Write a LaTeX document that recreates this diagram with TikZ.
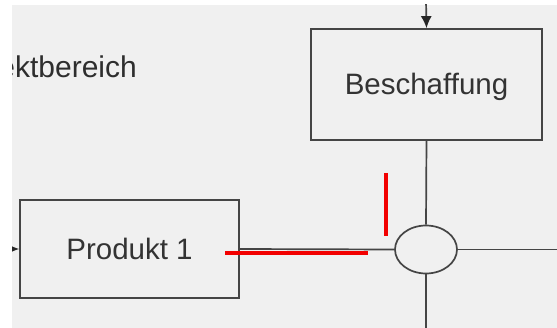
\documentclass[tikz,border=0pt]{standalone}
\usepackage{fontspec}
\setmainfont{Liberation Sans}
\usetikzlibrary{arrows.meta,shapes.geometric}
\definecolor{canvas}{HTML}{F0F0F0}
\definecolor{edge}{HTML}{454545}
\definecolor{mark}{HTML}{F20000}
\tikzset{
  px/.style={x={(1pt,0)},y={(0,-1pt)}},
  procbox/.style={draw=edge,line width=1.7pt,fill=canvas,rectangle,inner sep=0pt,
    font=\fontsize{29.5}{33}\selectfont,text=black!80,text height=21pt,text depth=0pt},
  junction/.style={draw=edge,line width=1.7pt,fill=canvas,ellipse,inner sep=0pt,
    minimum width=62pt,minimum height=48pt},
  flow/.style={draw=edge,line width=1.7pt},
  flowarrow/.style={flow,-{Latex[length=12pt,width=11pt,color=black!85]}},
  redmark/.style={draw=mark,line width=4.6pt},
  caption/.style={font=\fontsize{30}{34}\selectfont,text=black!82,inner sep=0pt}
}
\begin{document}
\begin{tikzpicture}[px]
  \useasboundingbox (0,0) rectangle (557,328);
  \fill[white] (0,0) rectangle (557,328);
  \fill[canvas] (12,5) rectangle (557,328);
  \begin{scope}
    \clip (12,5) rectangle (557,328);
    % area title
    \node[caption,anchor=base east] (area) at (137,78) {ektbereich};
    % process boxes
    \node[procbox,minimum width=231pt,minimum height=111pt] (besch) at (426.5,84.5) {Beschaffung};
    \node[procbox,minimum width=219pt,minimum height=98pt] (prod) at (129.5,249) {Produkt 1};
    \node[junction] (jn) at (426,249.5) {};
    % open connector ends
    \coordinate (topin) at (426,0);
    \coordinate (leftin) at (0,249);
    \coordinate (rightout) at (557,249.5);
    \coordinate (bottomout) at (426,328);
    % connectors
    \draw[flowarrow] (topin) -- (besch.north);
    \draw[flowarrow] (leftin) -- (prod.west);
    \draw[flow] (besch.south) -- (jn.north);
    \draw[flow] (prod.east) -- (jn.west);
    \draw[flow] (jn.east) -- (rightout);
    \draw[flow] (jn.south) -- (bottomout);
    % red marks
    \coordinate (rh1) at (225,253);
    \coordinate (rh2) at (368,253);
    \coordinate (rv1) at (386,173);
    \coordinate (rv2) at (386,236);
    \draw[redmark] (rh1) -- (rh2);
    \draw[redmark] (rv1) -- (rv2);
  \end{scope}
\end{tikzpicture}
\end{document}
